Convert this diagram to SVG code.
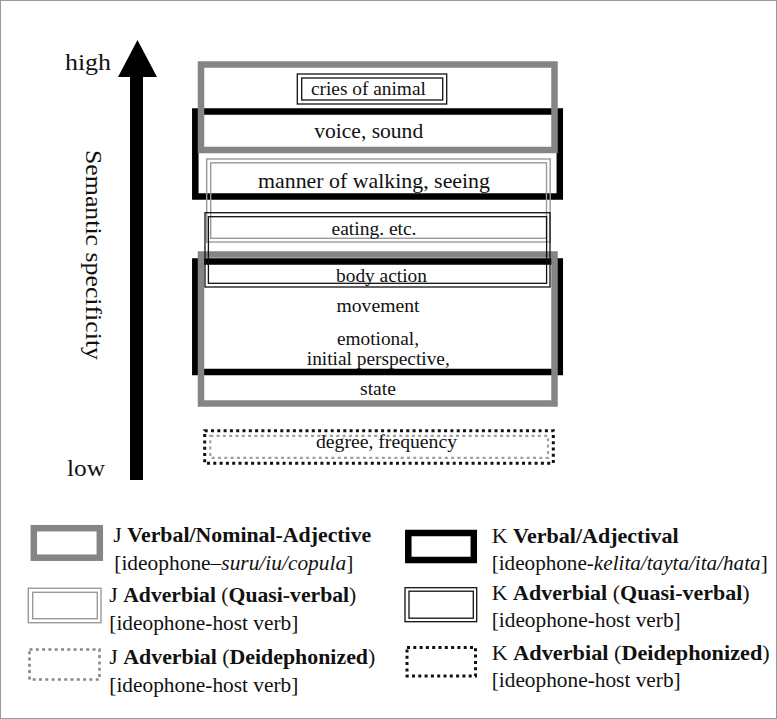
<svg xmlns="http://www.w3.org/2000/svg" width="777" height="719" viewBox="0 0 777 719">
<style>
  text { font-family: "Liberation Serif", "Times New Roman", serif; fill: #111; }
  .lbl { text-anchor: middle; font-size: 19.5px; }
  .leg { font-size: 21px; }
  .b { font-weight: bold; }
  .i { font-style: italic; }
  .gthick { fill: none; stroke: #858585; stroke-width: 6.5; }
  .kthick { fill: none; stroke: #000; stroke-width: 6.5; }
  .gdbl { fill: none; stroke: #9a9a9a; stroke-width: 1.4; }
  .kdbl { fill: none; stroke: #111; stroke-width: 1.3; }
  .kdot { fill: none; stroke: #111; stroke-width: 3; stroke-dasharray: 3 3.3; }
  .gdot { fill: none; stroke: #a0a0a0; stroke-width: 2.2; stroke-dasharray: 3 3.3; }
  .gdotL { fill: none; stroke: #888; stroke-width: 2.6; stroke-dasharray: 3 3.3; }
</style>
<rect x="0.5" y="0.5" width="776" height="718" fill="#fff" stroke="#9a9a9a" stroke-width="1"/>

<g id="connectors">
  <path id="axis-arrow" d="M130,77 L118,77 L137.5,40 L157,77 L143,77 L143,480 L130,480 Z" fill="#000"/>
</g>

<g id="axis-labels">
  <text x="65" y="70" style="font-size:24px" textLength="46" lengthAdjust="spacingAndGlyphs">high</text>
  <text x="67" y="476" style="font-size:24px" textLength="38" lengthAdjust="spacingAndGlyphs">low</text>
  <text x="86" y="255" transform="rotate(90 86 255)" style="font-size:24px;text-anchor:middle" textLength="210" lengthAdjust="spacingAndGlyphs">Semantic specificity</text>
</g>

<g id="k-verbal-upper">
  <rect class="kthick" x="195.3" y="111.5" width="364.5" height="85"/>
</g>
<g id="k-verbal-lower">
  <rect class="kthick" x="195.3" y="261.5" width="364.5" height="110.5"/>
</g>
<g id="j-verbal-upper">
  <rect class="gthick" x="201" y="64.5" width="353.5" height="85.5"/>
</g>
<g id="j-verbal-lower">
  <rect class="gthick" x="201" y="254.5" width="353.5" height="149"/>
</g>

<g id="j-quasi-manner">
  <rect class="gdbl" x="206.7" y="159" width="343.5" height="83"/>
  <rect class="gdbl" x="210.7" y="162.8" width="335.8" height="75.5"/>
</g>
<g id="k-quasi-eating-body">
  <rect class="kdbl" x="205" y="212.7" width="345" height="74.3"/>
  <rect class="kdbl" x="208.4" y="216.7" width="338.2" height="66.6"/>
</g>
<g id="k-quasi-cries">
  <rect class="kdbl" x="297.3" y="74" width="149.4" height="30"/>
  <rect class="kdbl" x="301.7" y="78" width="141" height="22"/>
</g>
<g id="deideph-degree">
  <rect class="kdot" x="204.7" y="430.7" width="348.6" height="32.6"/>
  <rect class="gdot" x="210.3" y="435.8" width="337.7" height="22"/>
</g>

<g id="labels">
  <text class="lbl" x="368.4" y="95" style="font-size:18.5px" textLength="115" lengthAdjust="spacingAndGlyphs">cries of animal</text>
  <text class="lbl" x="368.7" y="138" style="font-size:21px" textLength="109" lengthAdjust="spacingAndGlyphs">voice, sound</text>
  <text class="lbl" x="374" y="188" style="font-size:21px" textLength="232" lengthAdjust="spacingAndGlyphs">manner of walking, seeing</text>
  <text class="lbl" x="374" y="235" style="font-size:19px" textLength="85" lengthAdjust="spacingAndGlyphs">eating. etc.</text>
  <text class="lbl" x="381.5" y="281.5" textLength="91" lengthAdjust="spacingAndGlyphs">body action</text>
  <text class="lbl" x="378" y="311.5" textLength="83" lengthAdjust="spacingAndGlyphs">movement</text>
  <text class="lbl" x="378" y="345" textLength="82" lengthAdjust="spacingAndGlyphs">emotional,</text>
  <text class="lbl" x="378.3" y="365" textLength="143" lengthAdjust="spacingAndGlyphs">initial perspective,</text>
  <text class="lbl" x="378" y="395" textLength="36" lengthAdjust="spacingAndGlyphs">state</text>
  <text class="lbl" x="386.5" y="448" textLength="141" lengthAdjust="spacingAndGlyphs">degree, frequency</text>
</g>

<g id="legend-j-verbal">
  <rect class="gthick" x="33.8" y="528.2" width="66" height="29.5"/>
  <text class="leg" x="113.3" y="542" textLength="258" lengthAdjust="spacingAndGlyphs">J <tspan class="b">Verbal/Nominal-Adjective</tspan></text>
  <text class="leg" x="114.3" y="570" textLength="239" lengthAdjust="spacingAndGlyphs">[ideophone–<tspan class="i">suru/iu/copula</tspan>]</text>
</g>
<g id="legend-j-quasi">
  <rect class="gdbl" x="28.3" y="588.3" width="72.7" height="34.4"/>
  <rect class="gdbl" x="32.7" y="592.3" width="64.6" height="26.4"/>
  <text class="leg" x="109.3" y="602" textLength="247" lengthAdjust="spacingAndGlyphs">J <tspan class="b">Adverbial</tspan> (<tspan class="b">Quasi-verbal</tspan>)</text>
  <text class="leg" x="109.3" y="630" textLength="189" lengthAdjust="spacingAndGlyphs">[ideophone-host verb]</text>
</g>
<g id="legend-j-deideph">
  <rect class="gdotL" x="29.5" y="649.5" width="70" height="30"/>
  <text class="leg" x="109.3" y="664" textLength="266" lengthAdjust="spacingAndGlyphs">J <tspan class="b">Adverbial</tspan> (<tspan class="b">Deidephonized</tspan>)</text>
  <text class="leg" x="109.3" y="692" textLength="189" lengthAdjust="spacingAndGlyphs">[ideophone-host verb]</text>
</g>
<g id="legend-k-verbal">
  <rect class="kthick" x="408.3" y="533" width="65.5" height="27"/>
  <text class="leg" x="491.7" y="543" textLength="187" lengthAdjust="spacingAndGlyphs">K <tspan class="b">Verbal/Adjectival</tspan></text>
  <text class="leg" x="491.7" y="570" textLength="276" lengthAdjust="spacingAndGlyphs">[ideophone-<tspan class="i">kelita/tayta/ita/hata</tspan>]</text>
</g>
<g id="legend-k-quasi">
  <rect class="kdbl" x="405" y="587.7" width="71.7" height="34"/>
  <rect class="kdbl" x="409" y="591.2" width="64.3" height="27"/>
  <text class="leg" x="491.7" y="600" textLength="258" lengthAdjust="spacingAndGlyphs">K <tspan class="b">Adverbial</tspan> (<tspan class="b">Quasi-verbal</tspan>)</text>
  <text class="leg" x="491.7" y="627" textLength="189" lengthAdjust="spacingAndGlyphs">[ideophone-host verb]</text>
</g>
<g id="legend-k-deideph">
  <rect class="kdot" x="407" y="647.5" width="68.5" height="28.5"/>
  <text class="leg" x="491.7" y="660" textLength="278" lengthAdjust="spacingAndGlyphs">K <tspan class="b">Adverbial</tspan> (<tspan class="b">Deidephonized</tspan>)</text>
  <text class="leg" x="491.7" y="687" textLength="189" lengthAdjust="spacingAndGlyphs">[ideophone-host verb]</text>
</g>
</svg>
